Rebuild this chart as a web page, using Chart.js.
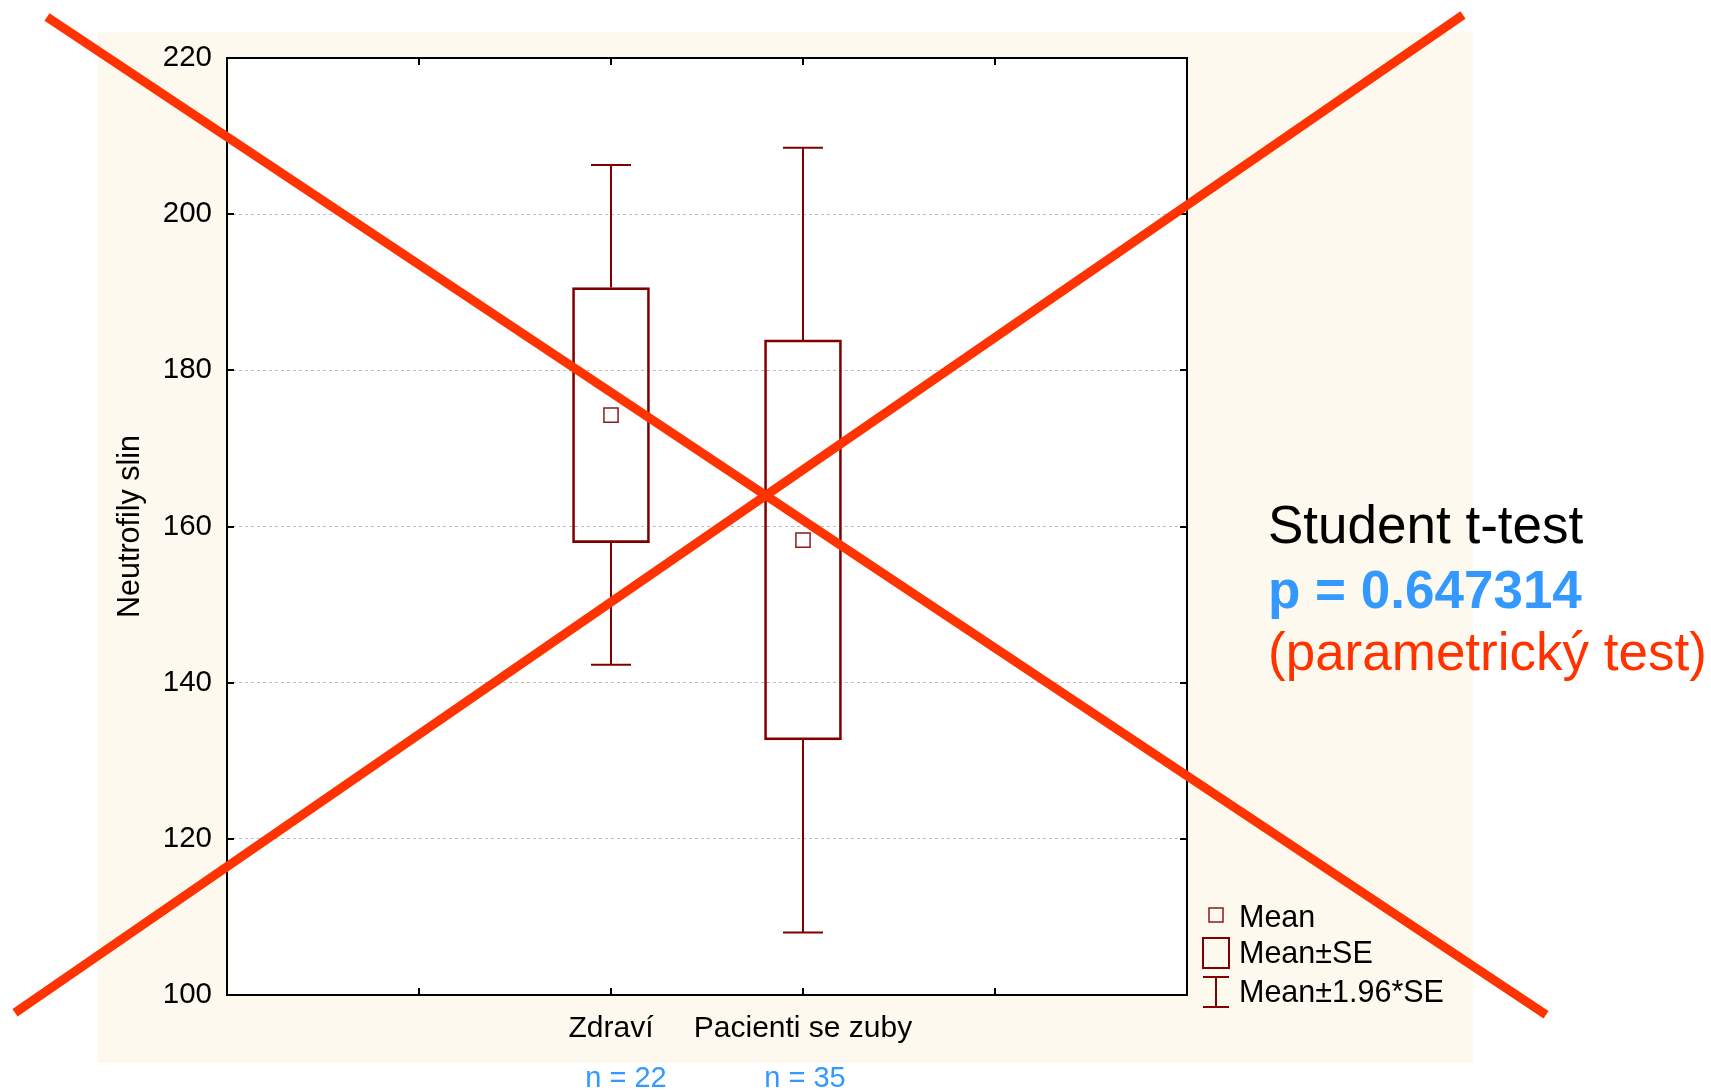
<!DOCTYPE html>
<html>
<head>
<meta charset="utf-8">
<title>Neutrofily slin</title>
<script src="https://cdn.jsdelivr.net/npm/chart.js@4/dist/chart.umd.min.js"></script>
<style>
  html, body { margin: 0; padding: 0; background: #ffffff; }
  canvas { display: block; }
</style>
</head>
<body>
<canvas id="chart" width="1711" height="1090"></canvas>
<script>
// Groups on the category axis (empty slots keep the ticks between groups)
const categories = ['', '', 'Zdraví', 'Pacienti se zuby', '', ''];
const groupSizes = ['', '', 'n = 22', 'n = 35', '', ''];

// Per-group statistics
const means  = [null, null, 174.27, 158.25, null, null];
const seLow  = [null, null, 157.94, 132.68, null, null];
const seHigh = [null, null, 190.60, 183.90, null, null];
const ciLow  = [null, null, 142.28, 108.00, null, null];
const ciHigh = [null, null, 206.30, 208.50, null, null];

// Value axis
const yMin = 100;
const yMax = 220;
const yStep = 20;

const legendLabels = ['Mean', 'Mean±SE', 'Mean±1.96*SE'];
const testLines = ['Student t-test', 'p = 0.647314', '(parametrický test)'];

// Two strokes crossing the whole figure out, given in axis units [category index, value]
const crossLines = [
  [[-0.9375, 225.25], [6.87, 97.47]],
  [[-1.104, 97.72], [6.4375, 225.5]]
];

const FONT = "'Liberation Sans', Arial, Helvetica, sans-serif";
const DARK_RED = '#800000';
const MARK_RED = '#8b1a1a';
const CROSS_RED = '#ff3300';
const BLUE = '#3399ff';

const decor = {
  id: 'decor',
  beforeDraw(chart) {
    const { ctx, chartArea: a } = chart;
    ctx.save();
    // cream panel behind the plot
    ctx.fillStyle = '#fef9ee';
    const l = a.left - 129, t = a.top - 26, r = a.right + 286, b = a.bottom + 68;
    ctx.fillRect(l, t, r - l, b - t);
    // white plotting area
    ctx.fillStyle = '#ffffff';
    ctx.fillRect(a.left, a.top, a.right - a.left, a.bottom - a.top);
    ctx.restore();
  },
  afterDatasetsDraw(chart) {
    const { ctx } = chart;
    const x = chart.scales.x, y = chart.scales.y;
    ctx.save();
    ctx.strokeStyle = DARK_RED;
    ctx.lineWidth = 2;
    const capHalf = 20;
    for (let i = 0; i < categories.length; i++) {
      if (ciLow[i] == null) continue;
      const px = x.getPixelForValue(i);
      const yLo = y.getPixelForValue(ciLow[i]);
      const yHi = y.getPixelForValue(ciHigh[i]);
      const bLo = y.getPixelForValue(seLow[i]);
      const bHi = y.getPixelForValue(seHigh[i]);
      ctx.beginPath();
      ctx.moveTo(px, bLo); ctx.lineTo(px, yLo);
      ctx.moveTo(px, bHi); ctx.lineTo(px, yHi);
      ctx.moveTo(px - capHalf, yLo); ctx.lineTo(px + capHalf, yLo);
      ctx.moveTo(px - capHalf, yHi); ctx.lineTo(px + capHalf, yHi);
      ctx.stroke();
    }
    ctx.restore();
  },
  afterDraw(chart) {
    const { ctx, chartArea: a } = chart;
    const x = chart.scales.x, y = chart.scales.y;
    ctx.save();

    // frame
    ctx.strokeStyle = '#000000';
    ctx.lineWidth = 2;
    ctx.strokeRect(a.left, a.top, a.right - a.left, a.bottom - a.top);

    // inward tick marks on all four sides
    const tl = 7;
    ctx.beginPath();
    for (let v = yMin + yStep; v < yMax; v += yStep) {
      const py = Math.round(y.getPixelForValue(v));
      ctx.moveTo(a.left, py); ctx.lineTo(a.left + tl, py);
      ctx.moveTo(a.right, py); ctx.lineTo(a.right - tl, py);
    }
    for (let i = 1; i < categories.length - 1; i++) {
      const px = Math.round(x.getPixelForValue(i));
      ctx.moveTo(px, a.top); ctx.lineTo(px, a.top + tl);
      ctx.moveTo(px, a.bottom); ctx.lineTo(px, a.bottom - tl);
    }
    ctx.stroke();

    // group sizes under the category labels
    const nShift = [0, 0, 15, 2, 0, 0];
    ctx.font = '29px ' + FONT;
    ctx.fillStyle = BLUE;
    ctx.textAlign = 'center';
    ctx.textBaseline = 'alphabetic';
    for (let i = 0; i < groupSizes.length; i++) {
      if (!groupSizes[i]) continue;
      ctx.fillText(groupSizes[i], x.getPixelForValue(i) + nShift[i], a.bottom + 92);
    }

    // legend
    const lx = a.right + 16;
    const cx = lx + 13;
    ctx.strokeStyle = MARK_RED;
    ctx.lineWidth = 1.5;
    ctx.strokeRect(cx - 7, a.bottom - 87, 14, 14);
    ctx.strokeStyle = DARK_RED;
    ctx.lineWidth = 2;
    ctx.strokeRect(lx, a.bottom - 57, 26, 30);
    ctx.beginPath();
    ctx.moveTo(cx, a.bottom - 18); ctx.lineTo(cx, a.bottom + 12);
    ctx.moveTo(lx, a.bottom - 18); ctx.lineTo(lx + 26, a.bottom - 18);
    ctx.moveTo(lx, a.bottom + 12); ctx.lineTo(lx + 26, a.bottom + 12);
    ctx.stroke();
    ctx.font = '30.5px ' + FONT;
    ctx.fillStyle = '#000000';
    ctx.textAlign = 'left';
    const legendBase = [a.bottom - 68, a.bottom - 32, a.bottom + 7];
    legendLabels.forEach((t, k) => ctx.fillText(t, lx + 36, legendBase[k]));

    // test result
    const tx = a.right + 81;
    ctx.font = '53px ' + FONT;
    ctx.fillStyle = '#000000';
    ctx.fillText(testLines[0], tx, a.top + 485);
    ctx.font = 'bold 53px ' + FONT;
    ctx.fillStyle = BLUE;
    ctx.fillText(testLines[1], tx, a.top + 550);
    ctx.font = '53px ' + FONT;
    ctx.fillStyle = CROSS_RED;
    ctx.fillText(testLines[2], tx, a.top + 612);

    // crossing-out strokes
    ctx.strokeStyle = CROSS_RED;
    ctx.lineWidth = 9;
    ctx.lineCap = 'butt';
    crossLines.forEach(([p0, p1]) => {
      ctx.beginPath();
      ctx.moveTo(x.getPixelForValue(p0[0]), y.getPixelForValue(p0[1]));
      ctx.lineTo(x.getPixelForValue(p1[0]), y.getPixelForValue(p1[1]));
      ctx.stroke();
    });

    ctx.restore();
  }
};

new Chart(document.getElementById('chart'), {
  type: 'bar',
  data: {
    labels: categories,
    datasets: [
      {
        type: 'line',
        label: legendLabels[0],
        data: means,
        showLine: false,
        pointStyle: 'rect',
        pointRadius: 10,
        pointHoverRadius: 10,
        pointBorderWidth: 1.5,
        pointBorderColor: MARK_RED,
        pointBackgroundColor: '#ffffff',
        order: 0
      },
      {
        type: 'bar',
        label: legendLabels[1],
        data: seLow.map((lo, i) => (lo == null ? null : [lo, seHigh[i]])),
        backgroundColor: 'rgba(0,0,0,0)',
        borderColor: DARK_RED,
        borderWidth: 2,
        borderSkipped: false,
        barThickness: 77,
        order: 1
      }
    ]
  },
  options: {
    responsive: false,
    devicePixelRatio: 1,
    animation: false,
    events: [],
    layout: { padding: { left: 0, top: 58, right: 524, bottom: 0 } },
    plugins: {
      legend: { display: false },
      tooltip: { enabled: false },
      title: { display: false }
    },
    scales: {
      x: {
        type: 'category',
        offset: false,
        grid: { display: false, drawTicks: false },
        border: { display: false },
        ticks: {
          autoSkip: false,
          maxRotation: 0,
          minRotation: 0,
          padding: 16,
          color: '#000000',
          font: { family: FONT, size: 30 }
        },
        afterFit(scale) { scale.height = 95; }
      },
      y: {
        type: 'linear',
        min: yMin,
        max: yMax,
        grid: {
          drawTicks: false,
          lineWidth: 1,
          color: (c) => (c.tick && (c.tick.value === yMin || c.tick.value === yMax)) ? 'rgba(0,0,0,0)' : '#bdbdbd'
        },
        border: { display: false, dash: [3, 3] },
        ticks: {
          stepSize: yStep,
          padding: 15,
          color: '#000000',
          font: { family: FONT, size: 29.5 }
        },
        title: {
          display: true,
          text: 'Neutrofily slin',
          color: '#000000',
          font: { family: FONT, size: 30.5 },
          padding: { top: 112, bottom: 0 }
        },
        afterFit(scale) { scale.width = 227; }
      }
    }
  },
  plugins: [decor]
});
</script>
</body>
</html>
